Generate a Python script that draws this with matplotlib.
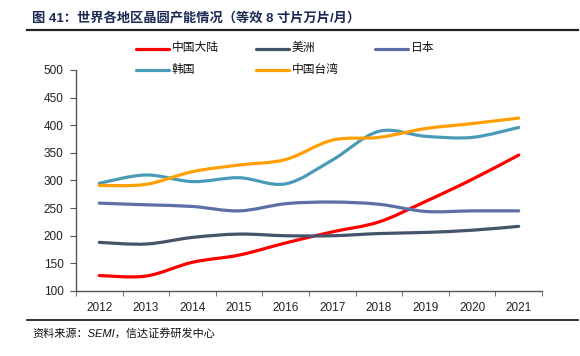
import matplotlib as mpl
mpl.use('Agg')

import matplotlib.pyplot as plt
from matplotlib.path import Path
from matplotlib.patches import PathPatch
from matplotlib.lines import Line2D
import numpy as np

plt.rcParams['font.family'] = ['Liberation Sans', 'Noto Sans CJK SC', 'DejaVu Sans']

years = ['2012', '2013', '2014', '2015', '2016', '2017', '2018', '2019', '2020', '2021']
mainland = [128, 127, 152, 165, 187, 207, 225, 262, 302, 346]
america = [188, 185, 197, 203, 200, 200, 204, 206, 210, 217]
japan = [259, 256, 253, 245, 258, 261, 257, 244, 245, 245]
korea = [295, 310, 298, 305, 294, 337, 389, 380, 378, 396]
taiwan = [291, 293, 316, 328, 338, 373, 378, 394, 403, 413]

names = ['中国大陆', '美洲', '日本', '韩国', '中国台湾']
colors = ['#ff0000', '#44546a', '#5e6fa8', '#4a9bb8', '#ffa000']
series = [mainland, america, japan, korea, taiwan]


def smooth_path(xs, ys, t=1/6):
    # catmull-rom style bezier, like excel "smoothed line"
    pts = np.column_stack([xs, ys]).astype(float)
    verts = [pts[0]]
    codes = [Path.MOVETO]
    n = len(pts)
    for i in range(n - 1):
        p0 = pts[max(i - 1, 0)]
        p1 = pts[i]
        p2 = pts[i + 1]
        p3 = pts[min(i + 2, n - 1)]
        c1 = p1 + (p2 - p0) * t
        c2 = p2 - (p3 - p1) * t
        verts += [c1, c2, p2]
        codes += [Path.CURVE4] * 3
    return Path(verts, codes)


fig = plt.figure(figsize=(5.8, 3.56), dpi=100)
ax = fig.add_axes([0.131, 0.1826, 0.8035, 0.6208])

x = np.arange(len(years))
for ys, c in zip(series, colors):
    ax.add_patch(PathPatch(smooth_path(x, ys), fill=False, edgecolor=c,
                           lw=2.3, capstyle='round', joinstyle='round'))

ax.set_xlim(-0.5, len(years) - 0.5)
ax.set_ylim(100, 500)
ax.set_yticks(range(100, 501, 50))
ax.set_xticks(x)
ax.set_xticklabels(years)
ax.set_xticks(np.arange(-0.5, len(years)), minor=True)
ax.tick_params(axis='x', which='major', length=0, pad=8, labelsize=8.5, colors='#222222')
ax.tick_params(axis='x', which='minor', length=3.5, direction='out', color='#555555')
ax.tick_params(axis='y', length=4, direction='out', pad=5, labelsize=8.5,
               colors='#222222', color='#555555')
for s in ['top', 'right']:
    ax.spines[s].set_visible(False)
for s in ['left', 'bottom']:
    ax.spines[s].set_color('#555555')
    ax.spines[s].set_linewidth(1.0)

# legend drawn by hand in pixel positions
W, H = 580, 356
leg_pos = [(136, 48.5), (256, 48.5), (375, 48.5), (136, 69.5), (256, 69.5)]
for (lx, ly), name, c in zip(leg_pos, names, colors):
    fig.add_artist(Line2D([lx / W, (lx + 33) / W], [1 - ly / H, 1 - ly / H],
                          color=c, lw=2.3, solid_capstyle='round'))
    fig.text((lx + 36) / W, 1 - ly / H, name, fontsize=8.5, va='center', ha='left',
             color='#111111')

# title and rules
fig.text(32 / W, 1 - 18 / H, '图 41：世界各地区晶圆产能情况（等效 8 寸片万片/月）',
         fontsize=9.5, fontweight='bold', color='#1b2a55', va='center', ha='left')
fig.add_artist(Line2D([27 / W, 578 / W], [1 - 29.5 / H] * 2, color='#222222', lw=1.6))
fig.add_artist(Line2D([27 / W, 578 / W], [1 - 319.5 / H] * 2, color='#222222', lw=1.3))
fig.text(32 / W, 1 - 333 / H, '资料来源：SEMI，信达证券研发中心', fontsize=8,
         style='italic', color='#111111', va='center', ha='left')

fig.savefig('out.png', dpi=100)
